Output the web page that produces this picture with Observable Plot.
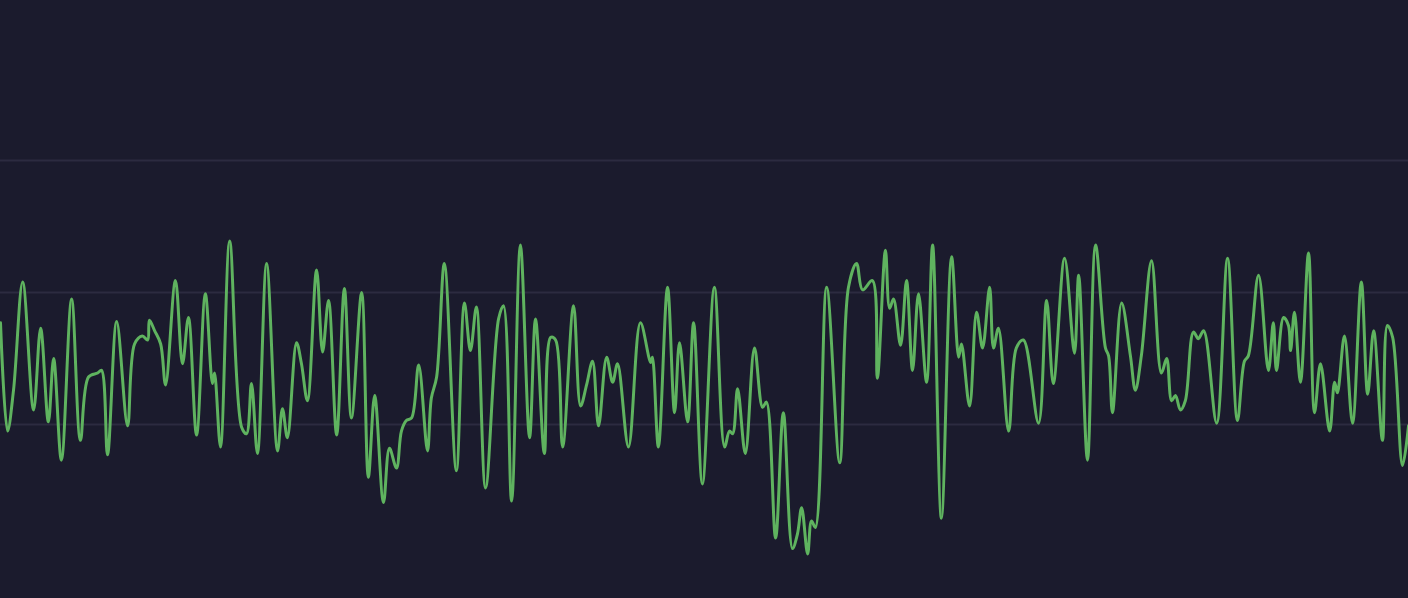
<!DOCTYPE html>
<html>
<head>
<meta charset="utf-8">
<script src="https://cdn.jsdelivr.net/npm/d3@7"></script>
<script src="https://cdn.jsdelivr.net/npm/@observablehq/plot@0.6"></script>
<style>
  html, body { margin: 0; padding: 0; background: #1b1b2d; overflow: hidden; }
  #chart svg { display: block; }
</style>
</head>
<body>
<div id="chart"></div>
<script>
// sample index (0..400) and signal value
const sampleIndex = [
  0, 2.0, 3.7, 6.3, 9.4, 11.4, 13.6, 15.1, 17.3, 20.2, 22.7, 25.0, 27.6, 28.7, 30.4, 33.0,
  36.1, 38.1, 40.3, 41.8, 42.3, 43.8, 45.5, 46.9, 49.7, 51.7, 53.4, 55.7, 58.2, 60.2, 60.8, 62.5,
  65.1, 68.5, 69.9, 71.3, 73.0, 75.6, 78.7, 80.1, 81.5, 84.1, 85.5, 87.2, 89.8, 91.5, 93.2, 95.5,
  97.7, 99.7, 102.6, 104.5, 106.3, 108.8, 110.5, 112.5, 113.9, 115.3, 116.8, 118.8, 121.3, 122.4, 123.9, 126.1,
  129.5, 131.8, 133.5, 135.2, 137.8, 141.5, 142.9, 145.2, 147.7, 150.3, 152.0, 154.5, 156.3, 157.7, 159.7, 162.8,
  164.8, 166.5, 168.2, 169.9, 172.2, 173.9, 175.3, 178.4, 181.8, 184.7, 185.2, 186.9, 189.5, 191.5, 192.9, 195.2,
  196.9, 199.4, 202.8, 205.7, 207.1, 208.0, 209.4, 211.6, 214.2, 216.5, 217.6, 220.2, 222.4, 225.0, 226.4, 227.6,
  229.3, 230.4, 231.5, 234.7, 238.4, 240.9, 243.2, 244.9, 247.7, 249.1, 251.4, 252.6, 253.7, 255.7, 257.4, 259.1,
  260.8, 263.1, 264.8, 267.3, 270.2, 272.2, 273.0, 275.3, 277.3, 279.0, 281.0, 282.1, 283.5, 286.4, 288.6, 290.6,
  294.9, 297.2, 299.1, 302.3, 305.1, 306.3, 308.8, 311.1, 313.9, 314.8, 315.9, 318.5, 321.0, 322.4, 324.1, 327.0,
  329.8, 331.3, 332.7, 333.8, 335.2, 336.6, 338.9, 340.3, 341.8, 345.5, 348.6, 351.4, 353.4, 354.5, 357.4, 360.2,
  361.6, 362.5, 364.5, 365.9, 366.5, 367.6, 369.3, 371.6, 373.3, 375.0, 377.6, 379.0, 379.8, 381.8, 384.1, 386.6,
  388.4, 390.1, 392.6, 394.0, 395.5, 398.3, 400.0
];
const signal = [
  47.7, 39.5, 42.6, 50.8, 41.1, 47.3, 40.2, 45.0, 37.3, 49.5, 38.8, 43.6, 43.9, 44.1, 37.7, 47.8,
  39.9, 46.1, 46.7, 46.4, 47.9, 47.1, 46.1, 43.0, 50.9, 44.6, 48.1, 39.2, 49.9, 43.1, 43.9, 38.3,
  53.9, 39.8, 39.3, 43.1, 37.8, 52.2, 38.0, 41.2, 39.0, 46.2, 44.6, 41.8, 51.7, 45.5, 49.4, 39.2,
  50.3, 40.5, 50.0, 36.0, 42.2, 34.1, 38.2, 36.7, 39.5, 40.3, 40.5, 44.5, 38.0, 42.0, 43.6, 52.2,
  36.5, 49.2, 45.6, 48.9, 35.2, 48.0, 49.0, 34.2, 53.6, 39.0, 48.0, 37.8, 46.6, 46.4, 38.3, 49.0,
  41.4, 43.0, 44.8, 39.9, 45.1, 43.2, 44.6, 38.3, 47.7, 44.7, 45.1, 38.3, 50.4, 40.9, 46.2, 40.2,
  47.7, 35.5, 50.4, 38.3, 39.5, 39.3, 42.7, 37.8, 45.8, 41.3, 41.7, 31.4, 40.9, 30.6, 31.7, 33.7,
  30.2, 32.7, 32.2, 50.4, 37.1, 50.4, 52.2, 50.2, 50.9, 43.5, 53.2, 48.8, 49.5, 46.0, 50.9, 44.1,
  49.9, 43.2, 53.6, 32.9, 52.7, 45.1, 46.1, 41.4, 48.5, 45.8, 50.4, 45.8, 47.3, 39.5, 45.8, 46.4,
  40.1, 49.4, 43.1, 52.6, 45.4, 51.3, 37.3, 53.6, 45.8, 45.2, 40.9, 49.2, 45.2, 42.6, 45.2, 52.4,
  43.9, 45.0, 41.8, 42.2, 41.1, 41.8, 47.0, 46.5, 47.1, 40.1, 52.6, 40.3, 44.8, 45.2, 51.3, 44.1,
  47.7, 44.1, 48.1, 47.5, 45.6, 48.5, 43.2, 53.0, 40.9, 44.6, 39.5, 43.2, 42.4, 46.7, 40.1, 50.8,
  42.3, 47.1, 38.8, 47.5, 46.6, 36.9, 39.9
];
const gridValues = [40, 50, 60];

const data = sampleIndex.map((t, i) => ({t, v: signal[i]}));

const chart = Plot.plot({
  width: 1408,
  height: 598,
  margin: 0,
  style: {background: "#1b1b2d"},
  x: {domain: [0, 400], axis: null},
  y: {domain: [26.82, 72.12], axis: null},
  marks: [
    Plot.ruleY(gridValues, {stroke: "#2c2b40", strokeWidth: 2}),
    Plot.line(data, {x: "t", y: "v", stroke: "#5fb35f", strokeWidth: 3, curve: "catmull-rom", strokeLinejoin: "round"})
  ]
});
document.getElementById("chart").appendChild(chart);
</script>
</body>
</html>
